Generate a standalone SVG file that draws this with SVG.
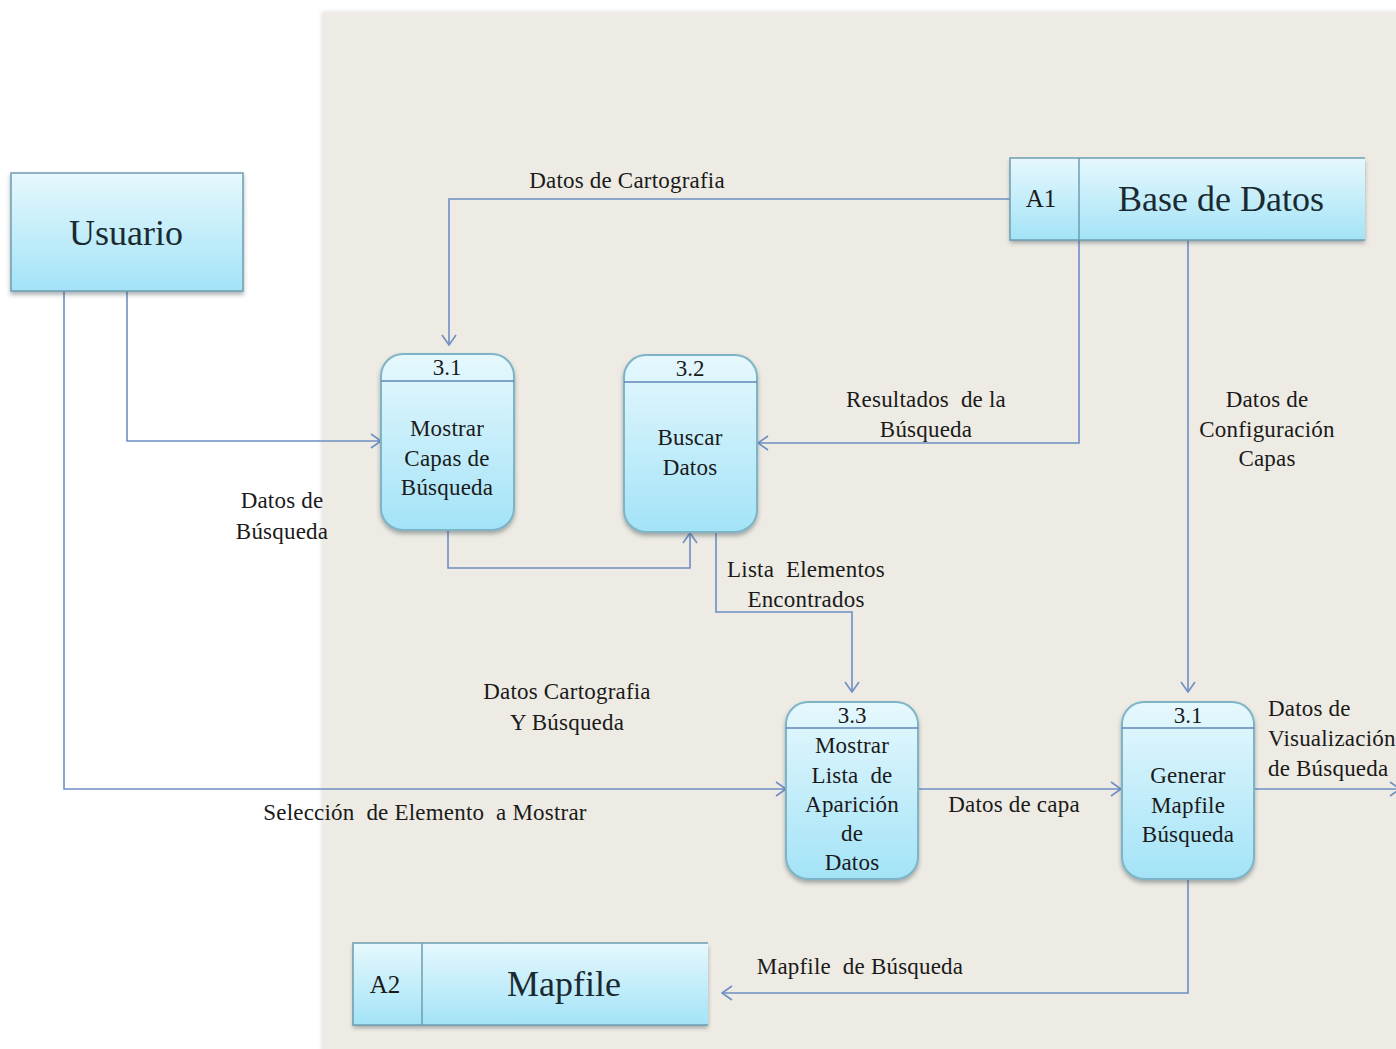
<svg xmlns="http://www.w3.org/2000/svg" width="1396" height="1049" viewBox="0 0 1396 1049">
  <style>
    .lbl { font-family: "Liberation Serif", "Times New Roman", serif; font-size: 23px; fill: #1a1a1a; white-space: pre; letter-spacing: 0.2px; }
    .big { font-family: "Liberation Serif", "Times New Roman", serif; font-size: 36px; fill: #1a2a30; }
    .num { font-family: "Liberation Serif", "Times New Roman", serif; font-size: 23px; fill: #1a1a1a; }
    .box { fill: url(#cyan); stroke: #6f9db1; stroke-width: 1.5; filter: url(#shadow); }
    .proc { fill: url(#cyan); stroke: #7fb4c7; stroke-width: 2; filter: url(#shadow); }
    .edge { stroke: #5f84b4; stroke-width: 1.6; fill: none; }
    .flow { stroke: #6f8fc4; stroke-width: 1.6; fill: none; marker-end: url(#arrow); }
  </style>
  <defs>
    <linearGradient id="cyan" x1="0" y1="0" x2="0" y2="1">
      <stop offset="0" stop-color="#e6f8fd"/>
      <stop offset="1" stop-color="#a3e3f7"/>
    </linearGradient>
    <filter id="shadow" x="-10%" y="-10%" width="120%" height="125%">
      <feDropShadow dx="0" dy="3" stdDeviation="2" flood-color="#44545a" flood-opacity="0.45"/>
    </filter>
    <filter id="panelShadow" x="-5%" y="-5%" width="110%" height="110%">
      <feDropShadow dx="-1" dy="0" stdDeviation="2" flood-color="#999" flood-opacity="0.35"/>
    </filter>
    <marker id="arrow" viewBox="0 0 12 16" refX="11" refY="8" markerWidth="12" markerHeight="16" markerUnits="userSpaceOnUse" orient="auto">
      <path d="M1,1 L11,8 L1,15" fill="none" stroke="#6f8fc4" stroke-width="1.6"/>
    </marker>
  </defs>

  <!-- page background and system boundary panel -->
  <rect x="0" y="0" width="1396" height="1049" fill="#ffffff"/>
  <rect x="323" y="12" width="1080" height="1045" fill="#edebe3" filter="url(#panelShadow)"/>

  <!-- data flows -->
  <g id="connectors">
    <path class="flow" d="M1010,199 H449 V345"/>
    <path class="flow" d="M127,291 V441 H381"/>
    <path class="flow" d="M64,291 V789 H786"/>
    <path class="flow" d="M448,530 V568 H690 V533"/>
    <path class="flow" d="M1079,240 V443 H758"/>
    <path class="flow" d="M716,532 V612 H852 V692"/>
    <path class="flow" d="M1188,240 V692"/>
    <path class="flow" d="M918,789 H1121"/>
    <path class="flow" d="M1254,789 H1400"/>
    <path class="flow" d="M1188,879 V993 H722"/>
  </g>

  <!-- flow labels -->
  <g id="flow-labels">
    <text class="lbl" x="627" y="188" text-anchor="middle">Datos de Cartografia</text>
    <text class="lbl" x="926" y="407" text-anchor="middle">Resultados  de la</text>
    <text class="lbl" x="926" y="437" text-anchor="middle">Búsqueda</text>
    <text class="lbl" x="1267" y="407" text-anchor="middle">Datos de</text>
    <text class="lbl" x="1267" y="437" text-anchor="middle">Configuración</text>
    <text class="lbl" x="1267" y="466" text-anchor="middle">Capas</text>
    <text class="lbl" x="282" y="508" text-anchor="middle">Datos de</text>
    <text class="lbl" x="282" y="539" text-anchor="middle">Búsqueda</text>
    <text class="lbl" x="806" y="577" text-anchor="middle">Lista  Elementos</text>
    <text class="lbl" x="806" y="607" text-anchor="middle">Encontrados</text>
    <text class="lbl" x="567" y="699" text-anchor="middle">Datos Cartografia</text>
    <text class="lbl" x="567" y="730" text-anchor="middle">Y Búsqueda</text>
    <text class="lbl" x="425" y="820" text-anchor="middle">Selección  de Elemento  a Mostrar</text>
    <text class="lbl" x="1014" y="812" text-anchor="middle">Datos de capa</text>
    <text class="lbl" x="1268" y="716">Datos de</text>
    <text class="lbl" x="1268" y="746">Visualización</text>
    <text class="lbl" x="1268" y="776">de Búsqueda</text>
    <text class="lbl" x="860" y="974" text-anchor="middle">Mapfile  de Búsqueda</text>
  </g>

  <!-- external entity -->
  <g id="usuario">
    <rect class="box" x="11" y="173" width="232" height="118"/>
    <text class="big" x="126" y="245" text-anchor="middle">Usuario</text>
  </g>

  <!-- data stores -->
  <g id="store-a1">
    <rect x="1010" y="158" width="355" height="82" fill="url(#cyan)" filter="url(#shadow)"/>
    <path d="M1365,158 H1010 V240 H1365 M1079,158 V240" fill="none" stroke="#6f9db1" stroke-width="1.5"/>
    <text class="num" x="1041" y="207" text-anchor="middle" style="font-size:25px">A1</text>
    <text class="big" x="1221" y="211" text-anchor="middle">Base de Datos</text>
  </g>

  <g id="store-a2">
    <rect x="353" y="943" width="355" height="82" fill="url(#cyan)" filter="url(#shadow)"/>
    <path d="M708,943 H353 V1025 H708 M422,943 V1025" fill="none" stroke="#6f9db1" stroke-width="1.5"/>
    <text class="num" x="385" y="993" text-anchor="middle" style="font-size:25px">A2</text>
    <text class="big" x="564" y="996" text-anchor="middle">Mapfile</text>
  </g>

  <!-- processes -->
  <g id="proc-3-1">
    <rect class="proc" x="381" y="354" width="133" height="176" rx="22" ry="22"/>
    <line x1="381" y1="381" x2="514" y2="381" class="edge"/>
    <text class="num" x="447" y="375" text-anchor="middle">3.1</text>
    <text class="lbl" x="447" y="436" text-anchor="middle">Mostrar</text>
    <text class="lbl" x="447" y="466" text-anchor="middle">Capas de</text>
    <text class="lbl" x="447" y="495" text-anchor="middle">Búsqueda</text>
  </g>

  <g id="proc-3-2">
    <rect class="proc" x="624" y="355" width="133" height="177" rx="22" ry="22"/>
    <line x1="624" y1="382" x2="757" y2="382" class="edge"/>
    <text class="num" x="690" y="376" text-anchor="middle">3.2</text>
    <text class="lbl" x="690" y="445" text-anchor="middle">Buscar</text>
    <text class="lbl" x="690" y="475" text-anchor="middle">Datos</text>
  </g>

  <g id="proc-3-3">
    <rect class="proc" x="786" y="702" width="132" height="177" rx="22" ry="22"/>
    <line x1="786" y1="728" x2="918" y2="728" class="edge"/>
    <text class="num" x="852" y="723" text-anchor="middle">3.3</text>
    <text class="lbl" x="852" y="753" text-anchor="middle">Mostrar</text>
    <text class="lbl" x="852" y="783" text-anchor="middle">Lista  de</text>
    <text class="lbl" x="852" y="812" text-anchor="middle">Aparición</text>
    <text class="lbl" x="852" y="841" text-anchor="middle">de</text>
    <text class="lbl" x="852" y="870" text-anchor="middle">Datos</text>
  </g>

  <g id="proc-3-1-mapfile">
    <rect class="proc" x="1122" y="702" width="132" height="177" rx="22" ry="22"/>
    <line x1="1122" y1="728" x2="1254" y2="728" class="edge"/>
    <text class="num" x="1188" y="723" text-anchor="middle">3.1</text>
    <text class="lbl" x="1188" y="783" text-anchor="middle">Generar</text>
    <text class="lbl" x="1188" y="813" text-anchor="middle">Mapfile</text>
    <text class="lbl" x="1188" y="842" text-anchor="middle">Búsqueda</text>
  </g>
</svg>
